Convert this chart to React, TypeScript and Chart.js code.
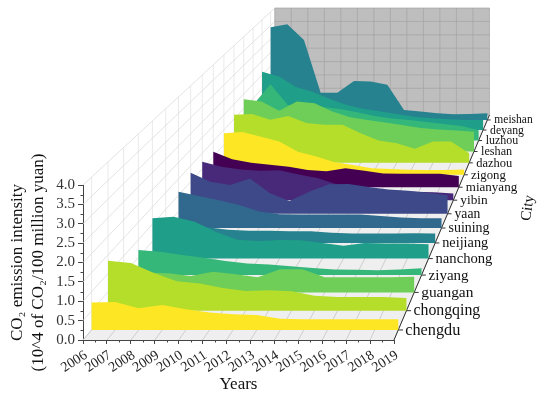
import React, { useEffect, useRef } from "react";
import { Chart, registerables } from "chart.js";

Chart.register(...registerables);

const years = [2006, 2007, 2008, 2009, 2010, 2011, 2012, 2013, 2014, 2015, 2016, 2017, 2018, 2019];
const cities = ["chengdu", "chongqing", "guangan", "ziyang", "nanchong", "neijiang", "suining", "yaan", "yibin", "mianyang", "zigong", "dazhou", "leshan", "luzhou", "deyang", "meishan"];
const zTicks = [0, 0.5, 1, 1.5, 2, 2.5, 3, 3.5, 4];

const chengdu = [0.72, 0.73, 0.57, 0.65, 0.54, 0.46, 0.41, 0.39, 0.29, 0.28, 0.28, 0.28, 0.28, 0.28];
const chongqing = [1.34, 1.28, 1.01, 0.79, 0.73, 0.61, 0.53, 0.55, 0.52, 0.4, 0.37, 0.37, 0.37, 0.34];
const guangan = [0.55, 0.55, 0.53, 0.45, 0.57, 0.5, 0.42, 0.64, 0.64, 0.42, 0.42, 0.42, 0.42, 0.43];
const ziyang = [0.71, 0.66, 0.57, 0.49, 0.4, 0.33, 0.3, 0.25, 0.2, 0.16, 0.15, 0.14, 0.16, 0.19];
const nanchong = [1.17, 1.22, 1.07, 0.77, 0.55, 0.51, 0.54, 0.53, 0.45, 0.37, 0.45, 0.44, 0.44, 0.42];
const neijiang = [0.6, 0.55, 0.47, 0.39, 0.36, 0.36, 0.35, 0.35, 0.3, 0.28, 0.28, 0.28, 0.29, 0.28];
const suining = [1.11, 0.98, 0.85, 0.7, 0.5, 0.42, 0.41, 0.41, 0.41, 0.41, 0.37, 0.32, 0.3, 0.3];
const yaan = [1.28, 1.0, 0.9, 1.1, 0.65, 0.4, 0.69, 0.92, 0.93, 0.84, 0.76, 0.72, 0.66, 0.58];
const yibin = [1.23, 1.07, 0.98, 0.94, 0.96, 0.82, 0.7, 0.5, 0.42, 0.35, 0.31, 0.27, 0.25, 0.21];
const mianyang = [1.16, 0.91, 0.8, 0.73, 0.67, 0.56, 0.52, 0.62, 0.54, 0.45, 0.44, 0.44, 0.44, 0.37];
const zigong = [1.39, 1.43, 1.27, 1.11, 0.77, 0.61, 0.42, 0.33, 0.22, 0.19, 0.17, 0.16, 0.16, 0.18];
const dazhou = [1.64, 1.67, 1.47, 1.6, 1.36, 1.3, 1.3, 1.01, 0.76, 0.67, 0.48, 0.73, 0.73, 0.33];
const leshan = [1.82, 1.74, 1.42, 1.74, 1.68, 1.39, 1.19, 1.1, 1.01, 0.91, 0.82, 0.77, 0.73, 0.69];
const luzhou = [1.26, 2.0, 1.26, 1.26, 1.19, 1.12, 1.01, 0.87, 0.78, 0.73, 0.66, 0.59, 0.52, 0.37];
const deyang = [2.12, 1.94, 1.56, 1.38, 1.13, 0.91, 0.76, 0.67, 0.57, 0.48, 0.43, 0.39, 0.36, 0.36];
const meishan = [3.43, 3.54, 2.96, 1.01, 1.01, 1.44, 1.42, 1.3, 0.37, 0.31, 0.25, 0.21, 0.22, 0.25];

const seriesValues = [chengdu, chongqing, guangan, ziyang, nanchong, neijiang, suining, yaan, yibin, mianyang, zigong, dazhou, leshan, luzhou, deyang, meishan];
const palette = ["#fde725", "#b5de2b", "#6ece58", "#35b779", "#1f9e89", "#26828e", "#31688e", "#3e4989", "#482878", "#440154"];

const SERIF = '"Liberation Serif", "Times New Roman", serif';
const YEAR0 = 2006;
const YEAR1 = 2019;
const Z_MAX = 4;
// Perspective of the 3D box, expressed in the units of the front-plane axes.
const DEPTH_K = 0.449;
const VANISH_YEAR = 2031.875;
const VANISH_Z = 18.735;

const scaleAt = (d: number) => 1 / (1 + DEPTH_K * d);
const depthOf = (cityIndex: number) => (cityIndex + 0.5) / cities.length;
const project = (year: number, d: number, z: number) => {
  const s = scaleAt(d);
  return { x: VANISH_YEAR + (year - VANISH_YEAR) * s, y: VANISH_Z + (z - VANISH_Z) * s };
};
const GAP = { x: NaN, y: NaN };

const segments = (pairs: [[number, number, number], [number, number, number]][]) => {
  const out: { x: number; y: number }[] = [];
  pairs.forEach(([a, b]) => {
    out.push(project(a[0], a[1], a[2]), project(b[0], b[1], b[2]), GAP);
  });
  return out;
};

const polygonFill = {
  id: "polygonFill",
  beforeDatasetDraw(chart: any, args: any) {
    const ds = chart.data.datasets[args.index];
    if (!ds.polygonColor) return;
    const pts = args.meta.data;
    const ctx = chart.ctx;
    ctx.save();
    ctx.beginPath();
    pts.forEach((p: any, i: number) => (i ? ctx.lineTo(p.x, p.y) : ctx.moveTo(p.x, p.y)));
    ctx.closePath();
    ctx.fillStyle = ds.polygonColor;
    ctx.fill();
    ctx.restore();
  },
};

const extras = {
  id: "extras",
  afterDraw(chart: any) {
    const { ctx, scales } = chart;
    const xs = scales.x;
    const ys = scales.y;
    ctx.save();
    // minor ticks on the front axes
    ctx.strokeStyle = "#444";
    ctx.lineWidth = 1;
    ctx.beginPath();
    for (let y = YEAR0; y < YEAR1; y++) {
      const px = Math.round(xs.getPixelForValue(y + 0.5)) + 0.5;
      ctx.moveTo(px, ys.bottom);
      ctx.lineTo(px, ys.bottom + 2.5);
    }
    for (let z = 0; z < Z_MAX; z += 0.5) {
      const py = Math.round(ys.getPixelForValue(z + 0.25)) + 0.5;
      ctx.moveTo(xs.left, py);
      ctx.lineTo(xs.left - 2.5, py);
    }
    ctx.stroke();
    // city labels along the depth axis
    ctx.fillStyle = "#111";
    ctx.textAlign = "left";
    ctx.textBaseline = "middle";
    cities.forEach((name, i) => {
      const d = depthOf(i);
      const p = project(YEAR1, d, 0);
      ctx.font = `${16.5 * scaleAt(d)}px ${SERIF}`;
      ctx.fillText(name, xs.getPixelForValue(p.x) + 7, ys.getPixelForValue(p.y) + 0.5);
    });
    // depth-axis title
    ctx.translate(528, 208);
    ctx.rotate((-82 * Math.PI) / 180);
    ctx.font = `15px ${SERIF}`;
    ctx.textAlign = "center";
    ctx.fillText("City", 0, 0);
    ctx.restore();
  },
};

const base = { parsing: true, clip: false, pointRadius: 0, pointHoverRadius: 0, tension: 0, fill: false, spanGaps: false };

function buildDatasets() {
  const out: any[] = [];
  seriesValues.forEach((vals, i) => {
    const d = depthOf(i);
    const pts = [project(YEAR0, d, 0), ...vals.map((v, k) => project(years[k], d, v)), project(YEAR1, d, 0)];
    const c = palette[i % palette.length];
    out.push({ ...base, label: cities[i], data: pts, order: i, polygonColor: c, borderColor: c, borderWidth: 0, showLine: false });
  });
  const wall = (label: string, pts: number[][], color: string, order: number) =>
    out.push({ ...base, label, data: pts.map((p) => project(p[0], p[1], p[2])), order, polygonColor: color, borderWidth: 0, showLine: false });
  const lines = (label: string, pairs: any[], color: string, order: number, width = 0.8) =>
    out.push({ ...base, label, data: segments(pairs), order, borderColor: color, borderWidth: width });

  wall("back wall", [[YEAR0, 1, 0], [YEAR1, 1, 0], [YEAR1, 1, Z_MAX], [YEAR0, 1, Z_MAX]], "#bebebe", 130);
  wall("floor", [[YEAR0, 0, 0], [YEAR1, 0, 0], [YEAR1, 1, 0], [YEAR0, 1, 0]], "#efefef", 130);
  lines("back wall years", years.map((y) => [[y, 1, 0], [y, 1, Z_MAX]]), "#a6a6a6", 120);
  lines("back wall levels", zTicks.map((z) => [[YEAR0, 1, z], [YEAR1, 1, z]]), "#a6a6a6", 120);
  lines("floor years", years.map((y) => [[y, 0, 0], [y, 1, 0]]), "#c4c4c4", 120);
  lines("left wall levels", zTicks.map((z) => [[YEAR0, 0, z], [YEAR0, 1, z]]), "#dcdcdc", 120);
  lines("left wall depths", cities.map((_, i) => [[YEAR0, depthOf(i), 0], [YEAR0, depthOf(i), Z_MAX]]), "#e4e4e4", 120);
  lines("depth axis", [[[YEAR1, 0, 0], [YEAR1, 1, 0]]], "#333", 20, 1);
  lines("depth ticks", cities.map((_, i) => [[YEAR1, depthOf(i), 0], [YEAR1 + 0.2, depthOf(i), 0]]), "#333", 20, 1);
  return out;
}

export default function App() {
  const ref = useRef<HTMLCanvasElement>(null);
  useEffect(() => {
    const chart = new Chart(ref.current as HTMLCanvasElement, {
      type: "line",
      data: { datasets: buildDatasets() },
      plugins: [polygonFill, extras],
      options: {
        animation: false,
        responsive: false,
        events: [],
        layout: { padding: { left: 0, top: 185, right: 156, bottom: 0 } },
        plugins: { legend: { display: false }, tooltip: { enabled: false } },
        scales: {
          x: {
            type: "linear",
            min: YEAR0,
            max: YEAR1,
            afterFit: (s: any) => { s.height = 57; },
            grid: { drawOnChartArea: false, drawTicks: true, tickLength: 4, color: "#444" },
            border: { display: true, color: "#444" },
            ticks: { stepSize: 1, autoSkip: false, minRotation: 33, maxRotation: 33, padding: 3, labelOffset: 3, color: "#222", font: { family: SERIF, size: 14 }, callback: (v: any) => String(v) },
            title: { display: true, text: "Years", color: "#111", font: { family: SERIF, size: 17 }, padding: { top: 0, bottom: 2 } },
          },
          y: {
            type: "linear",
            min: 0,
            max: Z_MAX,
            afterFit: (s: any) => { s.width = 83; },
            grid: { drawOnChartArea: false, drawTicks: true, tickLength: 5, color: "#444" },
            border: { display: true, color: "#444" },
            ticks: { stepSize: 0.5, autoSkip: false, padding: 3, color: "#333", font: { family: SERIF, size: 15 }, callback: (v: any) => Number(v).toFixed(1) },
            title: { display: true, text: ["CO₂ emission intensity", "(10^4 of CO₂/100 million yuan)"], color: "#111", font: { family: SERIF, size: 17, lineHeight: 1.25 }, padding: { top: 7, bottom: 0 } },
          },
        },
      },
    } as any);
    return () => chart.destroy();
  }, []);
  return (
    <div style={{ position: "absolute", left: 0, top: 0, width: 550, height: 397 }}>
      <canvas ref={ref} width={550} height={397} style={{ display: "block" }} />
    </div>
  );
}
